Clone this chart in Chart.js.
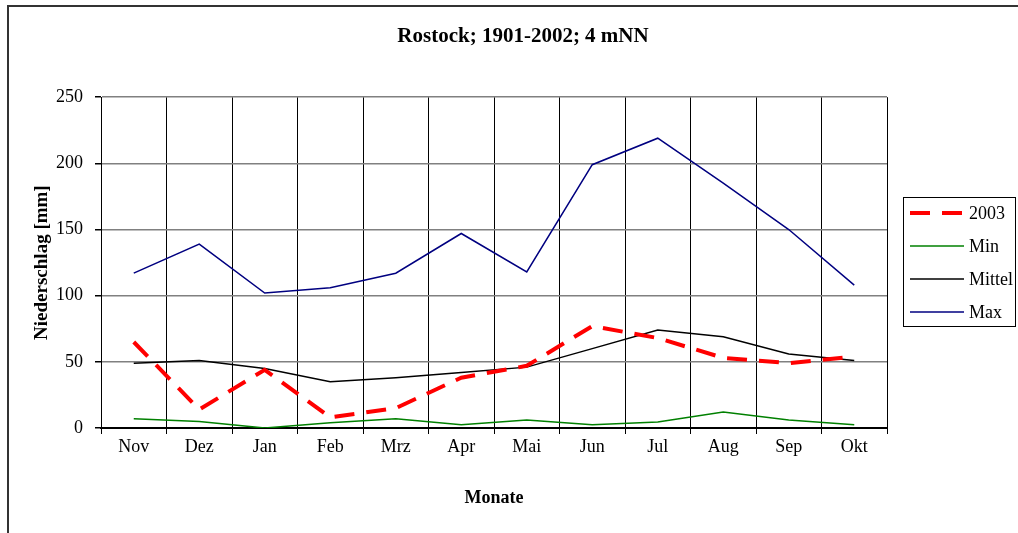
<!DOCTYPE html>
<html>
<head>
<meta charset="utf-8">
<script src="https://cdn.jsdelivr.net/npm/chart.js@4.4.0/dist/chart.umd.min.js"></script>
<style>
  html, body { margin: 0; padding: 0; background: #fff; overflow: hidden; }
  canvas { display: block; }
</style>
</head>
<body>
<canvas id="myChart" width="1018" height="533"></canvas>
<script>
// Monate (hydrologisches Jahr Nov - Okt)
const monate = ['Nov', 'Dez', 'Jan', 'Feb', 'Mrz', 'Apr', 'Mai', 'Jun', 'Jul', 'Aug', 'Sep', 'Okt'];

// Niederschlag [mm]
const werte2003 = [65, 14, 44, 8, 15, 38, 47, 77, 68, 53, 49, 54];
const werteMin = [7, 5, 0, 4, 7, 2.5, 6, 2.5, 4.5, 12, 6, 2.5];
const werteMittel = [49, 51, 45, 35, 38, 42, 46, 60, 74, 69, 56, 51];
const werteMax = [117, 139, 102, 106, 117, 147, 118, 199, 219, 185, 150, 108];

const yTicks = [0, 50, 100, 150, 200, 250];

const schrift = "'Liberation Serif', 'Times New Roman', serif";

// Rahmen um das ganze Diagramm
const rahmenPlugin = {
    id: 'rahmen',
    beforeDraw(chart) {
        const ctx = chart.ctx;
        ctx.save();
        ctx.fillStyle = '#fff';
        ctx.fillRect(0, 0, chart.width, chart.height);
        ctx.strokeStyle = '#333';
        ctx.lineWidth = 2;
        ctx.strokeRect(8, 6, chart.width + 10, chart.height + 10);
        ctx.restore();
    }
};

// Legende rechts mit Kasten
const legendePlugin = {
    id: 'legende',
    afterDraw(chart) {
        const ctx = chart.ctx;
        ctx.save();
        ctx.strokeStyle = '#000';
        ctx.lineWidth = 1;
        ctx.strokeRect(903.5, 197.5, 112, 129);
        ctx.font = '18px ' + schrift;
        ctx.textBaseline = 'middle';
        ctx.fillStyle = '#000';
        chart.data.datasets.forEach((ds, i) => {
            const y = 213 + i * 33;
            ctx.beginPath();
            ctx.strokeStyle = ds.borderColor;
            ctx.lineWidth = ds.borderWidth;
            ctx.setLineDash(ds.borderDash || []);
            ctx.moveTo(910, y);
            ctx.lineTo(964, y);
            ctx.stroke();
            ctx.setLineDash([]);
            ctx.fillText(ds.label, 969, y + 1);
        });
        ctx.restore();
    }
};

const ctx = document.getElementById('myChart').getContext('2d');
new Chart(ctx, {
    type: 'line',
    data: {
        labels: monate,
        datasets: [
            { label: '2003', data: werte2003, borderColor: '#ff0000', borderWidth: 4, borderDash: [20, 12] },
            { label: 'Min', data: werteMin, borderColor: '#008000', borderWidth: 1.5 },
            { label: 'Mittel', data: werteMittel, borderColor: '#000000', borderWidth: 1.5 },
            { label: 'Max', data: werteMax, borderColor: '#000080', borderWidth: 1.5 }
        ]
    },
    options: {
        responsive: false,
        animation: false,
        devicePixelRatio: 1,
        layout: { padding: { left: 28, right: 0, top: 0, bottom: 0 } },
        elements: {
            point: { radius: 0 },
            line: { tension: 0, fill: false }
        },
        plugins: {
            legend: { display: false },
            tooltip: { enabled: false },
            title: {
                display: true,
                text: 'Rostock; 1901-2002; 4 mNN',
                color: '#000',
                font: { family: schrift, size: 21, weight: 'bold' },
                padding: { top: 24, bottom: 48 }
            }
        },
        scales: {
            x: {
                offset: true,
                grid: {
                    offset: true,
                    color: c => c.index === monate.length ? '#808080' : '#000',
                    lineWidth: 1,
                    tickLength: 6,
                    tickColor: '#000'
                },
                border: { color: '#000', width: 2 },
                ticks: {
                    color: '#000',
                    padding: 2,
                    maxRotation: 0,
                    autoSkip: false,
                    font: { family: schrift, size: 18 }
                },
                title: {
                    display: true,
                    text: 'Monate',
                    color: '#000',
                    font: { family: schrift, size: 18, weight: 'bold' },
                    padding: { top: 0, bottom: 24 }
                },
                afterFit: s => { s.height = 105; }
            },
            y: {
                min: 0,
                max: 250,
                afterBuildTicks: s => { s.ticks = yTicks.map(v => ({ value: v })); },
                grid: {
                    color: '#808080',
                    lineWidth: 1.5,
                    tickLength: 6,
                    tickColor: '#000'
                },
                border: { color: '#000', width: 1 },
                ticks: {
                    color: '#000',
                    padding: 12,
                    font: { family: schrift, size: 18 }
                },
                title: {
                    display: true,
                    text: 'Niederschlag [mm]',
                    color: '#000',
                    font: { family: schrift, size: 19, weight: 'bold' },
                    padding: { top: 3, bottom: 0 }
                },
                afterFit: s => { s.width = 73; }
            },
            platz: {
                position: 'right',
                display: true,
                ticks: { display: false },
                grid: { display: false, drawTicks: false },
                border: { display: false },
                afterFit: s => { s.width = 131; }
            }
        }
    },
    plugins: [rahmenPlugin, legendePlugin]
});
</script>
</body>
</html>
